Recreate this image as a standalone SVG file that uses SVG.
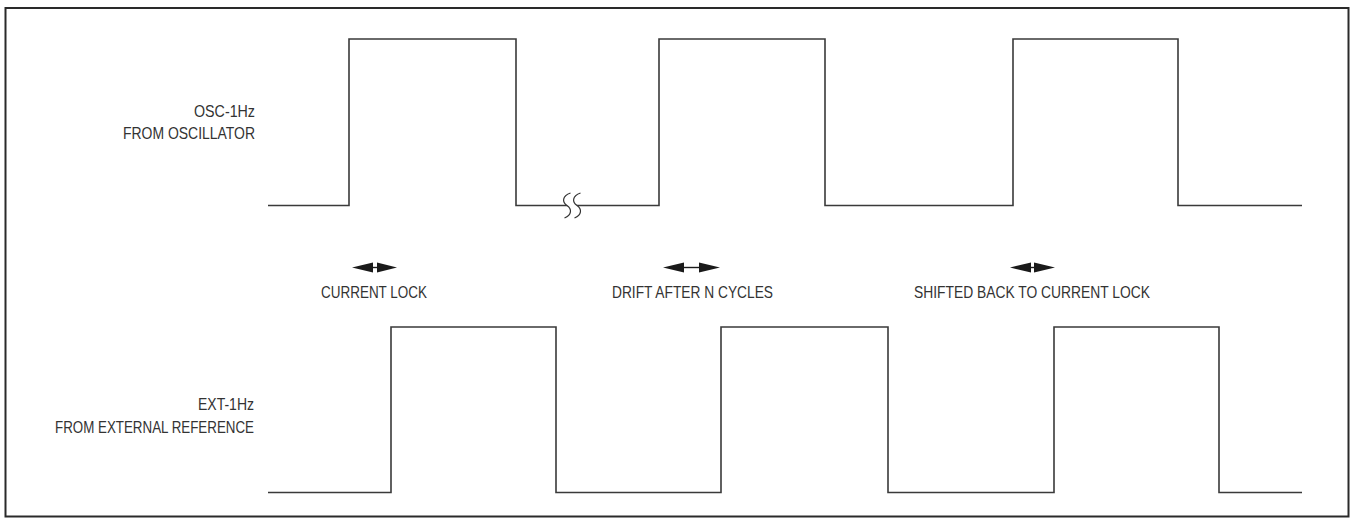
<svg xmlns="http://www.w3.org/2000/svg" width="1351" height="518" viewBox="0 0 1351 518">
<style>
.wave{fill:none;stroke:#3a3a3a;stroke-width:1.6}
.lbl{font-family:"Liberation Sans",Arial,sans-serif;font-size:17px;fill:#333}
.ah{fill:#1a1a1a}
.ln{stroke:#1a1a1a;stroke-width:1.4}
</style>
<rect x="5.5" y="8" width="1343" height="508.5" fill="#fff" stroke="#2a2a2a" stroke-width="2"/>
<g id="osc">
<polyline class="wave" points="268,205.5 349,205.5 349,39 516,39 516,205.5 659,205.5 659,39 825,39 825,205.5 1013,205.5 1013,39 1178,39 1178,205.5 1302,205.5"/>
<path d="M570.5 193 C562 196 562 202 567 205.5 C572 209 572 215 564.5 218 L574.5 218 C582 215 582 209 577 205.5 C572 202 572 196 580.5 193 Z" fill="#fff" stroke="none"/>
<path d="M570.5 193 C562 196 562 202 567 205.5 C572 209 572 215 564.5 218 M580.5 193 C572 196 572 202 577 205.5 C582 209 582 215 574.5 218" fill="none" stroke="#333" stroke-width="1.2"/>
<text class="lbl" x="194" y="117" textLength="61" lengthAdjust="spacingAndGlyphs">OSC-1Hz</text>
<text class="lbl" x="123" y="138.5" textLength="132" lengthAdjust="spacingAndGlyphs">FROM OSCILLATOR</text>
</g>
<g id="ext">
<polyline class="wave" points="268,492.5 391,492.5 391,327 556,327 556,492.5 721,492.5 721,327 888,327 888,492.5 1054,492.5 1054,327 1219,327 1219,492.5 1302,492.5"/>
<text class="lbl" x="198" y="410" textLength="56" lengthAdjust="spacingAndGlyphs">EXT-1Hz</text>
<text class="lbl" x="55" y="432.5" textLength="199" lengthAdjust="spacingAndGlyphs">FROM EXTERNAL REFERENCE</text>
</g>
<g id="connectors">
<g id="lock1">
<line class="ln" x1="372" y1="267.5" x2="378" y2="267.5"/>
<polygon class="ah" points="352,267.5 373,262.5 373,272.5"/>
<polygon class="ah" points="397,267.5 377,262.5 377,272.5"/>
</g>
<g id="drift">
<line class="ln" x1="682" y1="267.5" x2="701" y2="267.5"/>
<polygon class="ah" points="663,267.5 684,262.5 684,272.5"/>
<polygon class="ah" points="720,267.5 699,262.5 699,272.5"/>
</g>
<g id="lock2">
<line class="ln" x1="1030" y1="267.5" x2="1035" y2="267.5"/>
<polygon class="ah" points="1010,267.5 1031,262.5 1031,272.5"/>
<polygon class="ah" points="1055,267.5 1034,262.5 1034,272.5"/>
</g>
</g>
<g id="labels">
<text class="lbl" x="321" y="298" textLength="106" lengthAdjust="spacingAndGlyphs">CURRENT LOCK</text>
<text class="lbl" x="612" y="298" textLength="161" lengthAdjust="spacingAndGlyphs">DRIFT AFTER N CYCLES</text>
<text class="lbl" x="914" y="298" textLength="236" lengthAdjust="spacingAndGlyphs">SHIFTED BACK TO CURRENT LOCK</text>
</g>
</svg>
